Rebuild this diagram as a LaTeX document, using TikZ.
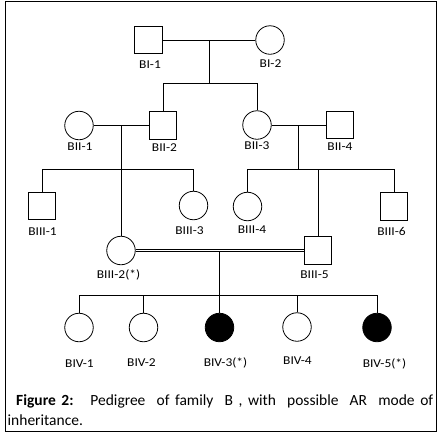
\documentclass[tikz,border=0pt]{standalone}
\usepackage{fontspec}
\setmainfont{Carlito}
\newfontfamily\lblfont[FakeStretch=1.12]{Carlito}
\usetikzlibrary{calc}

\begin{document}
\begin{tikzpicture}[x=1pt,y=-1pt,
  male/.style={draw,line width=0.8pt,minimum size=27.5pt,inner sep=0pt},
  female/.style={draw,circle,line width=0.8pt,minimum size=28.5pt,inner sep=0pt},
  affected/.style={female,fill=black},
  lbl/.style={anchor=base,inner sep=0pt,font=\lblfont\fontsize{12}{14}\selectfont},
  capt/.style={anchor=base west,inner sep=0pt,font=\fontsize{15.5}{19}\selectfont},
  line/.style={line width=0.8pt}]
\useasboundingbox (0,0) rectangle (442,437);
\draw[line width=1pt] (5.5,1.5) rectangle (436.5,431.5);

% generation I
\node[male] (bi1) at (148.5,40) {};
\node[female] (bi2) at (270,40) {};
\node[lbl] (bi1l) at (150,68) {BI-1};
\node[lbl] (bi2l) at (270.5,67.7) {BI-2};
\draw[line] (bi1) -- (bi2);
\coordinate (m1) at ($(bi1)!0.5!(bi2)$);
\coordinate (s1) at ($(m1)+(0,43)$);

% generation II
\node[female] (bii1) at (79,125.5) {};
\node[male] (bii2) at (163,125.5) {};
\node[female] (bii3) at (257,125) {};
\node[male] (bii4) at (340,125) {};
\node[lbl] (bii1l) at (80,150.7) {BII-1};
\node[lbl] (bii2l) at (164.5,151) {BII-2};
\node[lbl] (bii3l) at (257,149) {BII-3};
\node[lbl] (bii4l) at (340,150) {BII-4};
\draw[line] (m1) -- (m1 |- s1);
\draw[line] (s1 -| bii2) -- (s1 -| bii3);
\draw[line] (s1 -| bii2) -- (bii2);
\draw[line] (s1 -| bii3) -- (bii3);
\draw[line] (bii1) -- (bii2);
\draw[line] (bii3) -- (bii4);
\coordinate (m2) at ($(bii1)!0.5!(bii2)$);
\coordinate (m3) at ($(bii3)!0.5!(bii4)$);
\coordinate (s2) at (0,169);

% generation III
\node[male] (biii1) at (42,206) {};
\node[female] (biii2) at (121,250.5) {};
\node[female] (biii3) at (193.5,205.5) {};
\node[female] (biii4) at (247.5,206.5) {};
\node[male] (biii5) at (318,250.5) {};
\node[male] (biii6) at (394,206.5) {};
\node[lbl] (biii1l) at (42.5,235) {BIII-1};
\node[lbl] (biii2l) at (118.5,278.3) {BIII-2(*)};
\node[lbl] (biii3l) at (189.5,234) {BIII-3};
\node[lbl] (biii4l) at (252,233.3) {BIII-4};
\node[lbl] (biii5l) at (314.5,278.3) {BIII-5};
\node[lbl] (biii6l) at (391.5,235) {BIII-6};
\draw[line] (s2 -| biii1) -- (s2 -| biii3);
\draw[line] (s2 -| biii1) -- (biii1);
\draw[line] (m2) -- (biii2);
\draw[line] (s2 -| biii3) -- (biii3);
\draw[line] (m3) -- (m3 |- s2);
\draw[line] (s2 -| biii4) -- (s2 -| biii6);
\draw[line] (s2 -| biii4) -- (biii4);
\draw[line] (s2 -| biii5) -- (biii5);
\draw[line] (s2 -| biii6) -- (biii6);
\draw[line] ([yshift=1.3pt]biii2.east) -- ([yshift=1.3pt]biii5.west);
\draw[line] ([yshift=-1.3pt]biii2.east) -- ([yshift=-1.3pt]biii5.west);
\coordinate (m4) at ($(biii2)!0.5!(biii5)$);
\coordinate (s4) at (0,295);

% generation IV
\node[female] (biv1) at (79,327.5) {};
\node[female] (biv2) at (143.5,327.5) {};
\node[affected] (biv3) at (219.5,327.5) {};
\node[female] (biv4) at (297,327) {};
\node[affected] (biv5) at (377,327.5) {};
\node[lbl] (biv1l) at (79.5,367) {BIV-1};
\node[lbl] (biv2l) at (141.5,366.7) {BIV-2};
\node[lbl] (biv3l) at (225.5,366) {BIV-3(*)};
\node[lbl] (biv4l) at (297.5,364) {BIV-4};
\node[lbl] (biv5l) at (384.5,367) {BIV-5(*)};
\draw[line] ([yshift=-1.3pt]m4) -- (m4 |- s4);
\draw[line] (s4 -| biv1) -- (s4 -| biv5);
\foreach \kid in {biv1,biv2,biv3,biv4,biv5}
  \draw[line] (s4 -| \kid) -- (\kid);

% caption
\node[capt] (cap1) at (16,405) {\makebox[417pt][s]{\textbf{Figure 2:}\ \ \ Pedigree\ \ of family\ \ B , with\ \ possible\ \ AR\ \ mode of}};
\node[capt] (cap2) at (7.5,425.5) {inheritance.};
\end{tikzpicture}
\end{document}
